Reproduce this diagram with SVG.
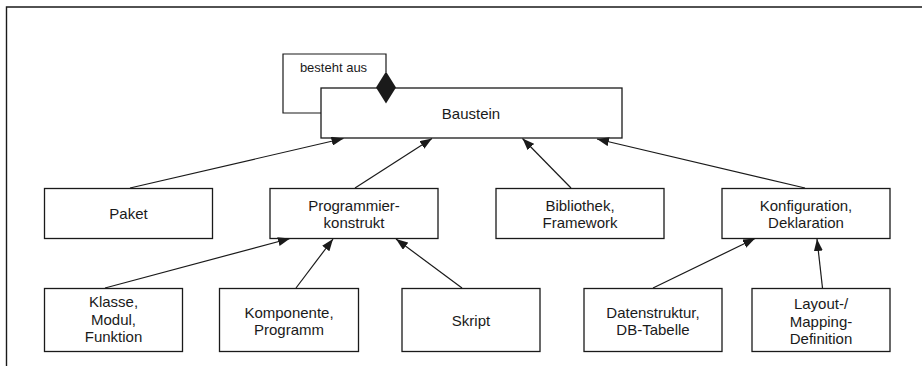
<svg xmlns="http://www.w3.org/2000/svg" width="922" height="366" viewBox="0 0 922 366">
  <style>
    .box { fill: #ffffff; stroke: #1a1a1a; stroke-width: 1.3; }
    .lbl { font-family: "Liberation Sans", Arial, sans-serif; font-size: 15px; fill: #1a1a1a; text-anchor: middle; }
    .small { font-size: 13px; }
    .edge { fill: none; stroke: #1a1a1a; stroke-width: 1.2; }
    .frame { fill: none; stroke: #1a1a1a; stroke-width: 1.4; }
  </style>
  <defs>
    <marker id="arrow" viewBox="0 0 12 9" refX="12" refY="4.5" markerWidth="12" markerHeight="9" markerUnits="userSpaceOnUse" orient="auto">
      <path d="M0,0 L12,4.5 L0,9 z" fill="#1a1a1a"/>
    </marker>
  </defs>

  <rect width="922" height="366" fill="#ffffff"/>
  <!-- outer frame: top and left border only -->
  <path class="frame" d="M6.5,366 V7 H922"/>

  <!-- self-association loop of Baustein, drawn below the box -->
  <g id="self-association">
    <path class="edge" d="M386,72 V54 H283 V113 H321"/>
    <text class="lbl small" x="333.5" y="71.5">besteht aus</text>
  </g>

  <g id="baustein">
    <rect class="box" x="321" y="88" width="301" height="50"/>
    <text class="lbl" x="471" y="118.5">Baustein</text>
  </g>

  <g id="paket">
    <rect class="box" x="44.5" y="188.5" width="168" height="50"/>
    <text class="lbl" x="128.5" y="218.5">Paket</text>
  </g>
  <g id="programmierkonstrukt">
    <rect class="box" x="270" y="188.5" width="168" height="50"/>
    <text class="lbl" x="354" y="210.5">Programmier-</text>
    <text class="lbl" x="354" y="227.5">konstrukt</text>
  </g>
  <g id="bibliothek">
    <rect class="box" x="496" y="188.5" width="168" height="50"/>
    <text class="lbl" x="580" y="210.5">Bibliothek,</text>
    <text class="lbl" x="580" y="227.5">Framework</text>
  </g>
  <g id="konfiguration">
    <rect class="box" x="722" y="188.5" width="168" height="50"/>
    <text class="lbl" x="806" y="210.5">Konfiguration,</text>
    <text class="lbl" x="806" y="227.5">Deklaration</text>
  </g>

  <g id="klasse">
    <rect class="box" x="44.5" y="288.5" width="138" height="63"/>
    <text class="lbl" x="113.5" y="307">Klasse,</text>
    <text class="lbl" x="113.5" y="324.5">Modul,</text>
    <text class="lbl" x="113.5" y="342">Funktion</text>
  </g>
  <g id="komponente">
    <rect class="box" x="219.5" y="288.5" width="139" height="63"/>
    <text class="lbl" x="289" y="317.5">Komponente,</text>
    <text class="lbl" x="289" y="335">Programm</text>
  </g>
  <g id="skript">
    <rect class="box" x="402" y="288.5" width="138" height="63"/>
    <text class="lbl" x="471" y="325.5">Skript</text>
  </g>
  <g id="datenstruktur">
    <rect class="box" x="584" y="288.5" width="138" height="63"/>
    <text class="lbl" x="653" y="317.5">Datenstruktur,</text>
    <text class="lbl" x="653" y="335">DB-Tabelle</text>
  </g>
  <g id="layout">
    <rect class="box" x="752" y="288.5" width="138" height="63"/>
    <text class="lbl" x="821" y="309">Layout-/</text>
    <text class="lbl" x="821" y="326.5">Mapping-</text>
    <text class="lbl" x="821" y="344">Definition</text>
  </g>

  <g id="connectors">
    <!-- composition diamond on top of Baustein -->
    <path d="M386,71.5 L396,87.5 L386,103.5 L376,87.5 z" fill="#1a1a1a"/>
    <line class="edge" x1="130" y1="188" x2="343.5" y2="138.5" marker-end="url(#arrow)"/>
    <line class="edge" x1="355" y1="188" x2="432" y2="138.5" marker-end="url(#arrow)"/>
    <line class="edge" x1="571" y1="188" x2="522.5" y2="138.5" marker-end="url(#arrow)"/>
    <line class="edge" x1="805" y1="188" x2="597" y2="139" marker-end="url(#arrow)"/>
    <line class="edge" x1="105" y1="288" x2="290" y2="238.5" marker-end="url(#arrow)"/>
    <line class="edge" x1="296" y1="288" x2="333" y2="239" marker-end="url(#arrow)"/>
    <line class="edge" x1="462" y1="288" x2="396" y2="239" marker-end="url(#arrow)"/>
    <line class="edge" x1="653" y1="288" x2="755" y2="238.5" marker-end="url(#arrow)"/>
    <line class="edge" x1="822.5" y1="288" x2="817" y2="239" marker-end="url(#arrow)"/>
  </g>
</svg>
